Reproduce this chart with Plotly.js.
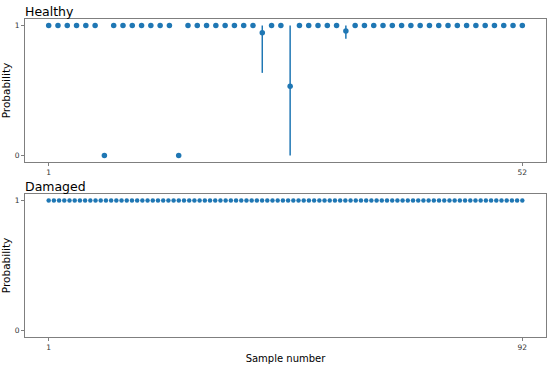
<!DOCTYPE html>
<html>
<head>
<meta charset="utf-8">
<script src="https://cdn.plot.ly/plotly-3.0.1.min.js"></script>
<style>
  body { margin: 0; background: #fff; }
  #graficos { width: 550px; height: 367px; }
</style>
</head>
<body>
<div id="graficos"></div>
<script>
// Healthy samples (1..52): predicted probability and error extents
let healthyProb = [
    1, 1, 1, 1, 1, 1, 0, 1, 1, 1,
    1, 1, 1, 1, 0, 1, 1, 1, 1, 1,
    1, 1, 1, 0.944, 1, 1, 0.534, 1, 1, 1,
    1, 1, 0.958, 1, 1, 1, 1, 1, 1, 1,
    1, 1, 1, 1, 1, 1, 1, 1, 1, 1,
    1, 1
];
let healthyErrUp = [
    0, 0, 0, 0, 0, 0, 0, 0, 0, 0,
    0, 0, 0, 0, 0, 0, 0, 0, 0, 0,
    0, 0, 0, 0.056, 0, 0, 0.466, 0, 0, 0,
    0, 0, 0.042, 0, 0, 0, 0, 0, 0, 0,
    0, 0, 0, 0, 0, 0, 0, 0, 0, 0,
    0, 0
];
let healthyErrDown = [
    0, 0, 0, 0, 0, 0, 0, 0, 0, 0,
    0, 0, 0, 0, 0, 0, 0, 0, 0, 0,
    0, 0, 0, 0.308, 0, 0, 0.534, 0, 0, 0,
    0, 0, 0.06, 0, 0, 0, 0, 0, 0, 0,
    0, 0, 0, 0, 0, 0, 0, 0, 0, 0,
    0, 0
];

// Damaged samples (1..92)
let damagedProb = [
    1, 1, 1, 1, 1, 1, 1, 1, 1, 1,
    1, 1, 1, 1, 1, 1, 1, 1, 1, 1,
    1, 1, 1, 1, 1, 1, 1, 1, 1, 1,
    1, 1, 1, 1, 1, 1, 1, 1, 1, 1,
    1, 1, 1, 1, 1, 1, 1, 1, 1, 1,
    1, 1, 1, 1, 1, 1, 1, 1, 1, 1,
    1, 1, 1, 1, 1, 1, 1, 1, 1, 1,
    1, 1, 1, 1, 1, 1, 1, 1, 1, 1,
    1, 1, 1, 1, 1, 1, 1, 1, 1, 1,
    1, 1
];

let colorAzul = '#1f77b4';

let healthyX = healthyProb.map((v, i) => i + 1);
let damagedX = damagedProb.map((v, i) => i + 1);

let graf1 =
{
    x: healthyX,
    y: healthyProb,
    type: 'scatter',
    mode: 'markers',
    marker: { color: colorAzul, size: 5.5 },
    error_y: {
        type: 'data',
        symmetric: false,
        array: healthyErrUp,
        arrayminus: healthyErrDown,
        color: colorAzul,
        thickness: 1.5,
        width: 0
    },
    xaxis: 'x',
    yaxis: 'y'
}

let graf2 =
{
    x: damagedX,
    y: damagedProb,
    type: 'scatter',
    mode: 'markers',
    marker: { color: colorAzul, size: 4.5 },
    xaxis: 'x2',
    yaxis: 'y2'
}

let ejeComun = {
    showline: true,
    mirror: true,
    linecolor: '#7f7f7f',
    linewidth: 1,
    showgrid: false,
    zeroline: false,
    ticks: 'outside',
    ticklen: 3,
    tickcolor: '#7f7f7f',
    tickfont: { size: 7.5, color: '#333' }
};

let layout =
{
    width: 550,
    height: 367,
    margin: { l: 25, r: 4, t: 19, b: 30 },
    paper_bgcolor: '#fff',
    plot_bgcolor: '#fff',
    showlegend: false,
    font: { family: 'DejaVu Sans', color: '#000' },
    xaxis: Object.assign({}, ejeComun, {
        domain: [0, 1], anchor: 'y',
        range: [-1.55, 54.55], tickvals: [1, 52]
    }),
    yaxis: Object.assign({}, ejeComun, {
        domain: [0.55, 1], anchor: 'x',
        range: [-0.05, 1.05], tickvals: [0, 1],
        title: { text: 'Probability', font: { size: 10.5 }, standoff: 6 }
    }),
    xaxis2: Object.assign({}, ejeComun, {
        domain: [0, 1], anchor: 'y2',
        range: [-3.55, 96.55], tickvals: [1, 92],
        title: { text: 'Sample number', font: { size: 10 }, standoff: 3 }
    }),
    yaxis2: Object.assign({}, ejeComun, {
        domain: [0, 0.45], anchor: 'x2',
        range: [-0.05, 1.05], tickvals: [0, 1],
        title: { text: 'Probability', font: { size: 10.5 }, standoff: 6 }
    }),
    annotations: [
        { text: 'Healthy', xref: 'paper', yref: 'paper', x: 0, y: 1,
          xanchor: 'left', yanchor: 'bottom', showarrow: false,
          font: { size: 12.5 }, xshift: -2, yshift: -2 },
        { text: 'Damaged', xref: 'paper', yref: 'paper', x: 0, y: 0.45,
          xanchor: 'left', yanchor: 'bottom', showarrow: false,
          font: { size: 12.5 }, xshift: -2, yshift: -2 }
    ]
}

// Llamado a plotly
let contenedor = document.getElementById("graficos");
Plotly.newPlot(contenedor, [graf1, graf2], layout, { displayModeBar: false });
</script>
</body>
</html>
